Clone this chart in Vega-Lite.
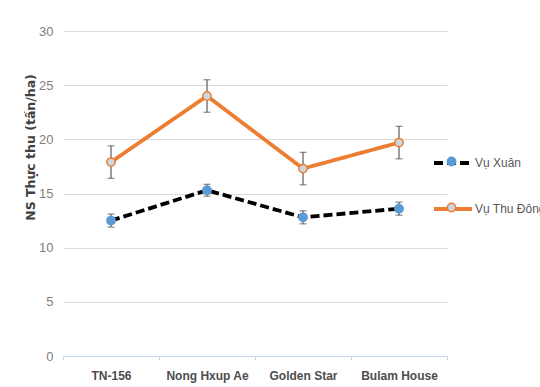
{
  "$schema": "https://vega.github.io/schema/vega-lite/v6.json",
  "width": 384,
  "height": 325,
  "autosize": {"type": "none"},
  "padding": {"left": 63, "top": 31, "right": 93, "bottom": 31},
  "background": "white",
  "config": {
    "view": {"stroke": null},
    "font": "Liberation Sans"
  },
  "data": {
    "values": [
      {"giong": "TN-156", "vu": "Vụ Xuân", "ns": 12.5, "lo": 11.9, "hi": 13.1},
      {"giong": "Nong Hxup Ae", "vu": "Vụ Xuân", "ns": 15.3, "lo": 14.75, "hi": 15.85},
      {"giong": "Golden Star", "vu": "Vụ Xuân", "ns": 12.8, "lo": 12.2, "hi": 13.4},
      {"giong": "Bulam House", "vu": "Vụ Xuân", "ns": 13.6, "lo": 13.0, "hi": 14.2},
      {"giong": "TN-156", "vu": "Vụ Thu Đông", "ns": 17.9, "lo": 16.4, "hi": 19.4},
      {"giong": "Nong Hxup Ae", "vu": "Vụ Thu Đông", "ns": 24.0, "lo": 22.5, "hi": 25.5},
      {"giong": "Golden Star", "vu": "Vụ Thu Đông", "ns": 17.3, "lo": 15.8, "hi": 18.8},
      {"giong": "Bulam House", "vu": "Vụ Thu Đông", "ns": 19.7, "lo": 18.2, "hi": 21.2}
    ]
  },
  "encoding": {
    "x": {
      "field": "giong", "type": "nominal", "sort": null,
      "scale": {"paddingInner": 0, "paddingOuter": 0},
      "axis": {
        "title": null, "labelAngle": 0, "labelFont": "Liberation Sans",
        "labelFontWeight": "bold", "labelFontSize": 12, "labelColor": "#4d4d4d",
        "labelPadding": 10, "domainColor": "#c5d6ea", "tickColor": "#c5d6ea",
        "tickSize": 4, "tickBand": "extent", "grid": false
      }
    },
    "y": {
      "field": "ns", "type": "quantitative",
      "scale": {"domain": [0, 30]},
      "axis": {
        "title": "NS Thực thu (tấn/ha)", "titleFont": "DejaVu Sans", "titleFontWeight": "bold", "titleFontSize": 12.5,
        "titleColor": "#404040", "titleX": -33, "titleY": 116, "titleAngle": -90,
        "titleAlign": "center", "titleBaseline": "middle",
        "values": [0, 5, 10, 15, 20, 25, 30],
        "labelColor": "#808080", "labelFontSize": 13, "labelPadding": 10,
        "domain": false, "ticks": false, "gridColor": "#d9d9d9", "gridWidth": 1
      }
    }
  },
  "layer": [
    {
      "mark": {"type": "rule", "color": "#595959", "strokeWidth": 1.2},
      "encoding": {"y": {"field": "lo", "type": "quantitative"}, "y2": {"field": "hi"}}
    },
    {
      "mark": {"type": "tick", "color": "#595959", "size": 7, "thickness": 1.2},
      "encoding": {"y": {"field": "lo", "type": "quantitative"}}
    },
    {
      "mark": {"type": "tick", "color": "#595959", "size": 7, "thickness": 1.2},
      "encoding": {"y": {"field": "hi", "type": "quantitative"}}
    },
    {
      "mark": {"type": "line", "strokeWidth": 3.8},
      "encoding": {
        "color": {
          "field": "vu", "type": "nominal",
          "scale": {"domain": ["Vụ Xuân", "Vụ Thu Đông"], "range": ["#000000", "#ED7D31"]},
          "legend": {
            "title": null, "orient": "none", "legendX": 369, "legendY": 111,
            "symbolType": "stroke", "symbolSize": 1444, "symbolStrokeWidth": 3.8,
            "labelFont": "Liberation Sans", "labelFontSize": 12, "labelColor": "#595959",
            "labelOffset": 1, "rowPadding": 17
          }
        },
        "strokeDash": {
          "field": "vu", "type": "nominal",
          "scale": {"domain": ["Vụ Xuân", "Vụ Thu Đông"], "range": [[9, 4], [1, 0]]},
          "legend": {
            "title": null, "orient": "none", "legendX": 369, "legendY": 111,
            "symbolType": "stroke", "symbolSize": 1444, "symbolStrokeWidth": 3.8,
            "labelFont": "Liberation Sans", "labelFontSize": 12, "labelColor": "#595959",
            "labelOffset": 1, "rowPadding": 17
          }
        }
      }
    },
    {
      "mark": {"type": "point", "filled": true, "size": 70, "strokeWidth": 1.5, "opacity": 1},
      "encoding": {
        "fill": {
          "field": "vu", "type": "nominal", "sort": "descending",
          "scale": {"range": ["#5B9BD5", "#C9D6E4"]},
          "legend": {
            "title": null, "orient": "none", "legendX": 382, "legendY": 124,
            "symbolType": "circle", "symbolSize": 70, "symbolStrokeWidth": 1.5, "symbolOpacity": 1,
            "labelExpr": "''", "labelFontSize": 13, "rowPadding": 31
          }
        },
        "stroke": {
          "field": "vu", "type": "nominal", "sort": "descending",
          "scale": {"range": ["#5B9BD5", "#ED7D31"]},
          "legend": {
            "title": null, "orient": "none", "legendX": 382, "legendY": 124,
            "symbolType": "circle", "symbolSize": 70, "symbolStrokeWidth": 1.5, "symbolOpacity": 1,
            "labelExpr": "''", "labelFontSize": 13, "rowPadding": 31
          }
        }
      }
    }
  ]
}
